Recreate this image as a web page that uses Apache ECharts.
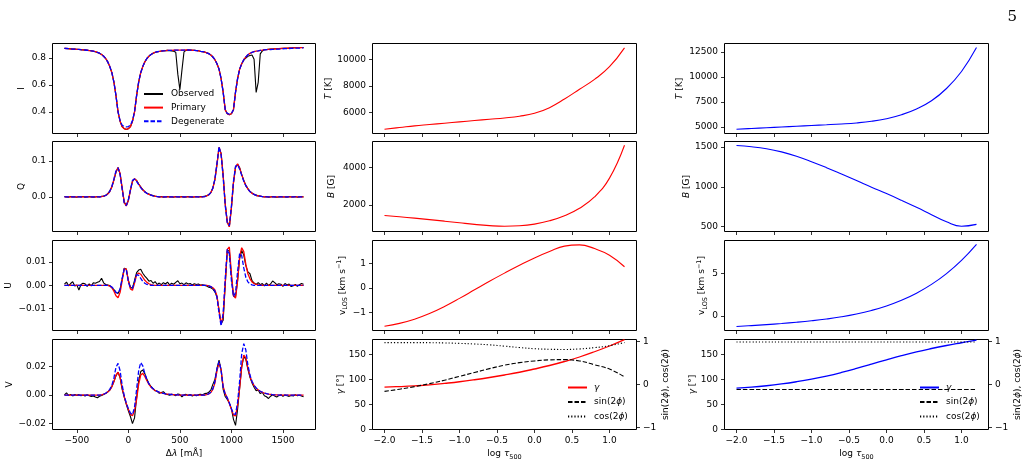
<!DOCTYPE html>
<html><head><meta charset="utf-8">
<script src="https://cdn.jsdelivr.net/npm/echarts@6/dist/echarts.min.js"></script>
<style>html,body{margin:0;padding:0;background:#fff}#c{width:1031px;height:465px}</style>
</head><body><div id="c"></div>
<script>
// ---------------- DATA ----------------
const lam = [-620,-600,-580,-560,-540,-520,-500,-480,-460,-440,
-420,-400,-380,-360,-340,-320,-300,-280,-260,-240,
-220,-200,-180,-160,-140,-120,-100,-80,-60,-40,
-20,0,20,40,60,80,100,120,140,160,
180,200,220,240,260,280,300,320,340,360,
380,400,420,440,460,480,500,520,540,560,
580,600,620,640,660,680,700,720,740,760,
780,800,820,840,860,880,900,920,940,960,
980,1000,1020,1040,1060,1080,1100,1120,1140,1160,
1180,1200,1220,1240,1260,1280,1300,1320,1340,1360,
1380,1400,1420,1440,1460,1480,1500,1520,1540,1560,
1580,1600,1620,1640,1660,1680,1700];

const iObserved = [.871,.870,.869,.867,.866,.865,.864,.863,.861,.860,
.859,.857,.855,.853,.850,.846,.841,.835,.826,.813,
.796,.771,.736,.691,.621,.521,.401,.331,.291,.276,
.271,.276,.291,.331,.401,.521,.621,.691,.736,.771,
.796,.813,.826,.835,.841,.846,.848,.851,.853,.854,
.856,.853,.852,.850,.842,.680,.565,.710,.845,.856,
.859,.858,.857,.856,.855,.853,.849,.847,.844,.838,
.832,.822,.807,.787,.757,.717,.647,.547,.417,.387,
.380,.387,.417,.547,.647,.717,.757,.784,.800,.812,
.818,.822,.790,.545,.620,.830,.852,.861,.862,.864,
.865,.866,.867,.868,.869,.870,.871,.872,.872,.873,
.874,.875,.875,.876,.876,.877,.877];
const iPrimary = [.871,.870,.869,.867,.866,.865,.864,.863,.861,.860,
.859,.857,.855,.853,.850,.846,.841,.835,.826,.813,
.796,.771,.736,.691,.621,.521,.401,.331,.291,.276,
.271,.276,.291,.331,.401,.521,.621,.691,.736,.771,
.796,.813,.826,.835,.841,.846,.848,.851,.853,.854,
.856,.856,.856,.857,.858,.858,.858,.858,.858,.859,
.859,.858,.857,.856,.855,.853,.849,.847,.844,.838,
.832,.822,.807,.787,.757,.717,.647,.547,.417,.387,
.380,.387,.417,.547,.647,.717,.757,.787,.807,.824,
.834,.841,.847,.850,.852,.856,.858,.861,.862,.864,
.865,.866,.867,.868,.869,.870,.871,.872,.872,.873,
.874,.875,.875,.876,.876,.877,.877];
const iDegenerate = [.871,.870,.869,.867,.866,.865,.864,.863,.861,.860,
.859,.857,.855,.853,.850,.846,.841,.835,.826,.813,
.796,.771,.736,.691,.621,.521,.401,.336,.302,.292,
.289,.292,.302,.336,.401,.521,.621,.691,.736,.771,
.796,.813,.826,.835,.841,.846,.848,.851,.853,.854,
.856,.856,.856,.857,.858,.858,.858,.858,.858,.859,
.859,.858,.857,.856,.855,.853,.849,.847,.844,.838,
.832,.822,.807,.787,.757,.717,.647,.547,.417,.389,
.384,.389,.417,.547,.647,.717,.757,.787,.807,.824,
.834,.841,.847,.850,.852,.856,.858,.860,.861,.862,
.862,.863,.864,.865,.866,.867,.868,.869,.869,.870,
.871,.872,.872,.873,.873,.874,.874];

const qObserved = [.001,0,-.001,.001,0,0,-.001,.001,0,.001,
-.001,0,.001,0,-.001,0,.001,0,.002,.002,
.005,.009,.016,.028,.047,.069,.081,.064,.024,-.014,
-.024,-.009,.018,.043,.050,.046,.036,.028,.020,.015,
.010,.008,.005,.004,.002,.001,0,.001,-.001,0,
.001,0,0,-.001,.001,0,0,.001,-.001,0,
.001,0,-.001,0,.001,0,.001,.001,.002,.003,
.006,.012,.025,.049,.091,.137,.121,.061,-.019,-.069,
-.082,-.031,.039,.082,.091,.081,.062,.046,.032,.023,
.015,.011,.007,.005,.003,.002,.001,0,.001,-.001,
0,.001,0,-.001,0,.001,0,0,-.001,.001,
0,0,.001,-.001,0,.001,0];
const qPrimary = [0,0,0,0,0,0,0,0,0,0,
0,0,0,0,0,0,0,0,.001,.002,
.004,.008,.015,.028,.048,.070,.082,.065,.025,-.015,
-.025,-.010,.018,.044,.051,.045,.036,.027,.020,.014,
.010,.007,.005,.003,.002,.001,0,0,0,0,
0,0,0,0,0,0,0,0,0,0,
0,0,0,0,0,0,0,0,.001,.003,
.006,.012,.024,.048,.090,.138,.120,.060,-.020,-.070,
-.083,-.030,.040,.083,.092,.080,.062,.045,.032,.022,
.015,.010,.007,.004,.003,.002,.001,0,0,0,
0,0,0,0,0,0,0,0,0,0,
0,0,0,0,0,0,0];
const qDegenerate = [0,0,0,0,0,0,0,0,0,0,
0,0,0,0,0,0,0,0,.001,.002,
.004,.008,.016,.029,.050,.072,.081,.062,.022,-.017,
-.024,-.008,.020,.046,.050,.043,.034,.026,.019,.014,
.010,.007,.005,.003,.002,.001,0,0,0,0,
0,0,0,0,0,0,0,0,0,0,
0,0,0,0,0,0,0,0,.001,.003,
.006,.012,.025,.050,.093,.140,.117,.055,-.024,-.072,
-.080,-.026,.043,.085,.090,.077,.060,.044,.031,.022,
.015,.010,.007,.004,.003,.002,.001,0,0,0,
0,0,0,0,0,0,0,0,0,0,
0,0,0,0,0,0,0];

const uObserved = [.0005,.0014,-.0002,.0008,.0016,-.0003,.0002,-.0020,.0004,.0009,
.0007,-.0004,.0006,-.0002,.0011,.0009,.0013,.0017,.0031,.0011,
.0004,.0002,-.0001,-.0010,-.0018,-.0030,-.0035,-.0018,.0028,.0074,
.0070,.0022,-.0008,-.0012,.0022,.0055,.0066,.0069,.0052,.0040,
.0030,.0018,.0021,.0009,.0016,.0004,.0010,.0003,.0012,.0006,
.0014,.0002,.0009,.0005,.0013,.0020,.0007,.0010,.0003,.0011,
.0006,.0008,.0002,.0007,.0004,.0006,.0001,.0003,.0000,-.0003,
-.0008,-.0010,-.0016,-.0028,-.0050,-.0105,-.0165,-.0150,.0000,.0148,
.0150,.0040,-.0045,-.0050,.0020,.0115,.0150,.0130,.0085,.0058,
.0050,.0020,.0010,.0004,.0012,.0003,.0008,-.0002,.0010,.0000,
.0006,.0019,.0012,.0003,.0007,.0005,-.0004,.0008,.0002,.0006,
-.0005,-.0002,.0004,-.0004,.0003,.0008,.0005];
const uPrimary = [0,0,0,0,0,0,0,0,0,0,
0,0,0,0,0,0,0,0,0,0,
0,0,-.0003,-.0010,-.0025,-.0045,-.0053,-.0030,.0020,.0072,
.0070,.0020,-.0015,-.0021,.0010,.0045,.0053,.0048,.0035,.0022,
.0013,.0007,.0003,.0001,0,0,0,0,0,0,
0,0,0,0,0,0,0,0,0,0,
0,0,0,0,0,0,0,0,0,0,
-.0002,-.0005,-.0010,-.0020,-.0045,-.0110,-.0168,-.0130,.0010,.0155,
.0165,.0050,-.0045,-.0055,.0020,.0125,.0162,.0145,.0090,.0050,
.0028,.0015,.0008,.0004,.0002,.0001,0,0,0,0,
0,0,0,0,0,0,0,0,0,0,
0,0,0,0,0,0,0];
const uDegenerate = [0,0,0,0,0,0,0,0,0,0,
0,0,0,0,0,0,0,0,0,0,
0,0,-.0002,-.0007,-.0017,-.0030,-.0034,-.0015,.0030,.0070,
.0068,.0015,-.0010,-.0012,.0015,.0046,.0043,.0030,.0017,.0009,
.0004,.0002,0,0,0,0,0,0,0,0,
0,0,0,0,0,0,0,0,0,0,
0,0,0,0,0,0,0,0,0,0,
-.0002,-.0005,-.0012,-.0025,-.0050,-.0120,-.0174,-.0120,.0030,.0155,
.0135,.0020,-.0048,-.0030,.0060,.0138,.0128,.0075,.0035,.0015,
.0006,.0002,0,0,0,0,0,0,0,0,
0,0,0,0,0,0,0,0,0,0,
0,0,0,0,0,0,0];

const vObserved = [.0002,.0016,-.0003,.0005,-.0006,.0004,-.0002,.0003,-.0005,.0001,
-.0007,.0002,-.0004,-.0009,-.0006,-.0014,-.0019,-.0008,-.0003,.0004,
.0012,.0022,.0035,.0060,.0095,.0135,.0160,.0120,.0040,-.0015,
-.0065,-.0110,-.0150,-.0200,-.0160,-.0020,.0100,.0165,.0175,.0150,
.0110,.0080,.0060,.0045,.0030,.0028,.0012,.0018,.0024,.0008,
.0004,-.0002,.0006,.0002,-.0004,.0008,.0003,-.0012,.0002,.0005,
-.0003,.0004,-.0006,.0001,-.0004,.0003,.0006,.0002,.0010,.0012,
.0020,.0035,.0075,.0110,.0185,.0245,.0175,.0040,-.0010,-.0030,
-.0055,-.0095,-.0170,-.0212,-.0100,.0050,.0195,.0270,.0250,.0180,
.0125,.0085,.0055,.0030,.0035,.0010,.0020,-.0005,-.0012,-.0024,
-.0008,.0002,-.0006,-.0013,-.0004,.0003,-.0008,.0000,-.0005,-.0009,
-.0003,-.0006,.0002,-.0004,-.0001,-.0006,-.0012];
const vPrimary = [0,0,0,0,0,0,0,0,0,0,
0,0,0,0,0,0,0,0,.0002,.0006,
.0012,.0022,.0035,.0058,.0095,.0140,.0160,.0125,.0050,-.0010,
-.0060,-.0100,-.0135,-.0145,-.0110,-.0030,.0075,.0140,.0152,.0130,
.0100,.0075,.0055,.0042,.0032,.0025,.0019,.0015,.0012,.0009,
.0007,.0005,.0004,.0003,.0002,.0001,0,0,0,0,
0,0,0,0,0,0,0,0,0,.0003,
.0008,.0018,.0040,.0085,.0170,.0225,.0180,.0060,.0010,-.0020,
-.0060,-.0100,-.0140,-.0145,-.0070,.0050,.0200,.0280,.0260,.0190,
.0132,.0092,.0066,.0048,.0035,.0026,.0019,.0014,.0010,.0007,
.0005,.0003,.0002,.0001,0,0,0,0,0,0,
0,0,0,0,0,0,0];
const vDegenerate = [0,0,0,0,0,0,0,0,0,0,
0,0,0,0,0,0,0,0,.0002,.0006,
.0013,.0024,.0040,.0068,.0120,.0195,.0222,.0170,.0070,-.0005,
-.0055,-.0095,-.0125,-.0137,-.0085,.0040,.0170,.0228,.0205,.0150,
.0108,.0078,.0058,.0044,.0034,.0026,.0020,.0015,.0012,.0009,
.0007,.0005,.0004,.0003,.0002,.0001,0,0,0,0,
0,0,0,0,0,0,0,0,0,.0003,
.0009,.0020,.0045,.0095,.0185,.0235,.0175,.0055,.0005,-.0020,
-.0055,-.0095,-.0132,-.0135,-.0050,.0100,.0290,.0360,.0315,.0210,
.0140,.0095,.0068,.0050,.0037,.0027,.0020,.0014,.0010,.0007,
.0005,.0003,.0002,.0001,0,0,0,0,0,0,
0,0,0,0,0,0,0];

const logTau = [-2.0,-1.8,-1.6,-1.4,-1.2,-1.0,-0.8,-0.6,-0.4,-0.2,0.0,0.2,0.4,0.6,0.8,1.0,1.2];
const tPrimary = [4717,4840,4970,5070,5170,5270,5370,5470,5570,5700,5920,6350,7000,7740,8490,9450,10880];
const bPrimary = [1434,1365,1292,1215,1132,1045,960,895,862,885,975,1150,1420,1820,2420,3420,5168];
const vlosPrimary = [-1.57,-1.45,-1.28,-1.05,-0.76,-0.43,-0.08,0.27,0.60,0.92,1.22,1.48,1.70,1.75,1.60,1.33,0.86];
const gammaPrimary = [84.8,85.8,87.2,89.2,92.2,95.5,99.5,104,109,114.5,121,128,136,145,155.5,167,179.6];
const sin2phiPrimary = [-0.16,-0.11,-0.05,0.02,0.10,0.19,0.28,0.37,0.45,0.51,0.55,0.575,0.58,0.55,0.46,0.36,0.18];
const cos2phiPrimary = [0.977,0.978,0.978,0.976,0.970,0.960,0.945,0.925,0.895,0.862,0.835,0.822,0.818,0.830,0.860,0.905,0.980];
const tDegenerate = [4770,4845,4920,4995,5070,5145,5215,5295,5400,5560,5820,6220,6800,7620,8850,10550,12950];
const bDegenerate = [1520,1505,1480,1440,1385,1317,1242,1162,1080,996,915,830,742,650,560,505,528];
const vlosDegenerate = [-1.23,-1.13,-1.015,-0.885,-0.735,-0.56,-0.35,-0.09,0.24,0.66,1.19,1.86,2.70,3.74,5.02,6.58,8.48];
const gammaDegenerate = [82.7,84.7,87.5,91.1,95.5,100.7,106.9,114.1,122.1,130.6,139.4,147.8,155.4,162.0,168.0,173.5,178.9];
const sin2phiDegenerate = [-0.115,-0.115,-0.115,-0.115,-0.115,-0.115,-0.115,-0.115,-0.115,-0.115,-0.115,-0.115,-0.115,-0.115,-0.115,-0.115,-0.115];
const cos2phiDegenerate = [0.99,0.99,0.99,0.99,0.99,0.99,0.99,0.99,0.99,0.99,0.99,0.99,0.99,0.99,0.99,0.99,0.99];

// tick labels
const ticksLam = [-500,0,500,1000,1500];
const ticksTau = [-2,-1.5,-1,-0.5,0,0.5,1];
const ticksI = [0.4,0.6,0.8];
const ticksQ = [0,0.1];
const ticksU = [-0.01,0,0.01];
const ticksV = [-0.02,0,0.02];
const ticksT2 = [6000,8000,10000];
const ticksB2 = [2000,4000];
const ticksVlos2 = [-1,0,1];
const ticksGamma = [0,50,100,150];
const ticksTrig = [-1,0,1];
const ticksT3 = [5000,7500,10000,12500];
const ticksB3 = [500,1000,1500];
const ticksVlos3 = [0,5];

// ---------------- CHART ----------------
const FONT = 'DejaVu Sans';
const FS = 9;
const TXT = '#000';
const rich = {
  n: {fontFamily: FONT, fontSize: FS, color: TXT, lineHeight: 13},
  i: {fontFamily: FONT, fontSize: FS, color: TXT, fontStyle: 'italic', lineHeight: 13},
  sb: {fontFamily: FONT, fontSize: 6.5, color: TXT, verticalAlign: 'bottom', lineHeight: 13},
  sp: {fontFamily: FONT, fontSize: 6.5, color: TXT, verticalAlign: 'top', lineHeight: 13}
};
function lab(v, d) { const s = Math.abs(v).toFixed(d); return (v < 0 ? '\u2212' : '') + s; }

const colX = [[52.5, 263], [372.5, 264], [724.5, 264]];
const rowY = [43.5, 141.5, 240.5, 339.5];
const PH = 90;

const grids = [], xAxes = [], yAxes = [], series = [];

function valAxis(min, max, ticks, dec, showLab) {
  return {
    type: 'value', min: min, max: max,
    axisLine: {show: false, onZero: false},
    axisTick: {show: true, inside: false, length: 3.5, lineStyle: {color: '#000', width: 0.8}, customValues: ticks},
    axisLabel: {show: showLab, customValues: ticks, formatter: v => lab(v, dec),
      fontFamily: FONT, fontSize: FS, color: TXT, margin: 6.5},
    splitLine: {show: false}
  };
}

function panel(c, r, xs, ys) {
  const gi = grids.length;
  grids.push({left: colX[c][0], top: rowY[r], width: colX[c][1], height: PH,
    show: true, borderColor: '#000', borderWidth: 1, backgroundColor: 'transparent', containLabel: false});
  const xa = valAxis(xs.min, xs.max, xs.ticks, xs.dec, r === 3);
  xa.gridIndex = gi; xa.position = 'bottom';
  if (r === 3) {
    xa.name = xs.name; xa.nameLocation = 'middle'; xa.nameGap = 18;
    xa.nameTextStyle = {rich: rich, fontFamily: FONT, fontSize: FS, color: TXT};
  }
  xAxes.push(xa);
  const ya = valAxis(ys.min, ys.max, ys.ticks, ys.dec, true);
  ya.gridIndex = gi; ya.position = 'left';
  ya.name = ys.name; ya.nameLocation = 'middle'; ya.nameGap = ys.gap; ya.nameRotate = 90;
  ya.nameTextStyle = {rich: rich, fontFamily: FONT, fontSize: FS, color: TXT};
  yAxes.push(ya);
  return {gi: gi, xi: xAxes.length - 1, yi: yAxes.length - 1};
}

function line(name, ax, yi, xs, ys, color, width, dash, smooth) {
  series.push({
    type: 'line', name: name, xAxisIndex: ax.xi, yAxisIndex: yi,
    data: xs.map((x, k) => [x, ys[k]]),
    symbol: 'none', showSymbol: false, smooth: smooth || false,
    lineStyle: {color: color, width: width, type: dash || 'solid'},
    itemStyle: {color: color},
    silent: true, animation: false, clip: false
  });
}

const xLam = {min: -736, max: 1816, ticks: ticksLam, dec: 0, name: '{n|\u0394}{i|\u03bb}{n| [m\u00c5]}'};
const xTau = {min: -2.16, max: 1.36, ticks: ticksTau, dec: 1, name: '{n|log }{i|\u03c4}{sb|500}'};

// Column 1: Stokes
const stokes = [
  {name: '{n|I}', min: 0.2407, max: 0.907, ticks: ticksI, dec: 1, gap: 24, o: iObserved, p: iPrimary, d: iDegenerate},
  {name: '{n|Q}', min: -0.096, max: 0.154, ticks: ticksQ, dec: 1, gap: 24, o: qObserved, p: qPrimary, d: qDegenerate},
  {name: '{n|U}', min: -0.0194, max: 0.0193, ticks: ticksU, dec: 2, gap: 37, o: uObserved, p: uPrimary, d: uDegenerate},
  {name: '{n|V}', min: -0.0241, max: 0.0389, ticks: ticksV, dec: 2, gap: 36, o: vObserved, p: vPrimary, d: vDegenerate}
];
stokes.forEach((s, r) => {
  const ax = panel(0, r, xLam, s);
  line('Observed', ax, ax.yi, lam, s.o, '#000000', 1.1);
  line('Primary', ax, ax.yi, lam, s.p, '#ff0000', 1.3);
  line('Degenerate', ax, ax.yi, lam, s.d, '#0000ff', 1.3, [4.5, 2]);
});

// Columns 2 and 3: atmospheres
const atmos = [
  {c: 1, col: '#ff0000', tag: 'P', T: tPrimary, B: bPrimary, v: vlosPrimary, g: gammaPrimary, s: sin2phiPrimary, k: cos2phiPrimary,
   Tax: {min: 4390, max: 11210, ticks: ticksT2, gap: 36}, Bax: {min: 583, max: 5367, ticks: ticksB2, gap: 34},
   vax: {min: -1.74, max: 1.93, ticks: ticksVlos2, gap: 22}, gap4: 25},
  {c: 2, col: '#0000ff', tag: 'D', T: tDegenerate, B: bDegenerate, v: vlosDegenerate, g: gammaDegenerate, s: sin2phiDegenerate, k: cos2phiDegenerate,
   Tax: {min: 4340, max: 13360, ticks: ticksT3, gap: 38}, Bax: {min: 438, max: 1571, ticks: ticksB3, gap: 31},
   vax: {min: -1.71, max: 8.93, ticks: ticksVlos3, gap: 14}, gap4: 24}
];
atmos.forEach(a => {
  let ax = panel(a.c, 0, xTau, {name: '{i|T}{n| [K]}', min: a.Tax.min, max: a.Tax.max, ticks: a.Tax.ticks, dec: 0, gap: a.Tax.gap});
  line('T' + a.tag, ax, ax.yi, logTau, a.T, a.col, 1.1, null, 0.45);
  ax = panel(a.c, 1, xTau, {name: '{i|B}{n| [G]}', min: a.Bax.min, max: a.Bax.max, ticks: a.Bax.ticks, dec: 0, gap: a.Bax.gap});
  line('B' + a.tag, ax, ax.yi, logTau, a.B, a.col, 1.1, null, 0.45);
  ax = panel(a.c, 2, xTau, {name: '{n|v}{sb|LOS}{n| [km s}{sp|\u22121}{n|]}', min: a.vax.min, max: a.vax.max, ticks: a.vax.ticks, dec: 0, gap: a.vax.gap});
  line('v' + a.tag, ax, ax.yi, logTau, a.v, a.col, 1.1, null, 0.45);
  ax = panel(a.c, 3, xTau, {name: '{i|\u03b3}{n| [\u00b0]}', min: 0, max: 180, ticks: ticksGamma, dec: 0, gap: a.gap4});
  const ry = valAxis(-1.05, 1.05, ticksTrig, 0, true);
  ry.gridIndex = ax.gi; ry.position = 'right';
  ry.name = '{n|sin(2}{i|\u03d5}{n|), cos(2}{i|\u03d5}{n|)}';
  ry.nameLocation = 'middle'; ry.nameGap = 23; ry.nameRotate = 90;
  ry.nameTextStyle = {rich: rich, fontFamily: FONT, fontSize: FS, color: TXT};
  yAxes.push(ry);
  const ri = yAxes.length - 1;
  line('g:' + a.tag, ax, ax.yi, logTau, a.g, a.col, 1.3, null, 0.45);
  line('s:' + a.tag, ax, ri, logTau, a.s, '#000000', 1.1, [4.5, 2], 0.45);
  line('c:' + a.tag, ax, ri, logTau, a.k, '#000000', 1.1, [1.2, 2], 0.45);
});

function legendFmt(name) {
  const k = name.split(':')[0];
  if (k === 'g') return '{i|\u03b3}';
  if (k === 's') return '{n|sin(2}{i|\u03d5}{n|)}';
  if (k === 'c') return '{n|cos(2}{i|\u03d5}{n|)}';
  return '{n|' + name + '}';
}
const legendBase = {
  orient: 'vertical', padding: 0, itemWidth: 19, itemHeight: 11, itemGap: 5.5,
  selectedMode: false, itemStyle: {opacity: 0}, formatter: legendFmt,
  textStyle: {fontFamily: FONT, fontSize: FS, color: TXT, rich: rich, padding: [0, 0, 0, 2]}
};

const option = {
  animation: false,
  backgroundColor: '#ffffff',
  title: {text: '5', right: 9, top: 5, textStyle: {fontFamily: 'DejaVu Serif', fontWeight: 'normal', fontSize: 15, color: '#000'}},
  legend: [
    Object.assign({}, legendBase, {data: ['Observed', 'Primary', 'Degenerate'], left: 143, top: 89.5, itemGap: 4.6,
      textStyle: Object.assign({}, legendBase.textStyle, {padding: [0, 0, 0, 3]})}),
    Object.assign({}, legendBase, {data: ['g:P', 's:P', 'c:P'], left: 567, top: 383}),
    Object.assign({}, legendBase, {data: ['g:D', 's:D', 'c:D'], left: 919, top: 383})
  ],
  grid: grids, xAxis: xAxes, yAxis: yAxes, series: series
};
const chart = echarts.init(document.getElementById('c'), null, {renderer: 'canvas', width: 1031, height: 465});
chart.setOption(option);
</script></body></html>
